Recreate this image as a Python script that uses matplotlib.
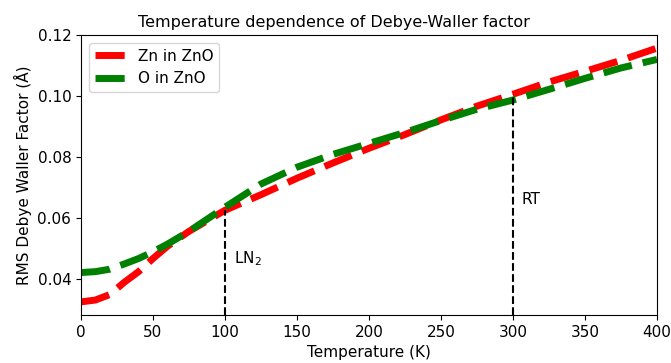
import numpy as np
import matplotlib.pyplot as plt

# RMS Debye-Waller factor (Angstrom) vs temperature (K)
temperature = [0, 10, 20, 30, 40, 50, 60, 75, 100, 125, 150, 175, 200,
               225, 250, 275, 300, 325, 350, 375, 400]
u_zn = [0.0326, 0.0332, 0.0350, 0.0390, 0.0425, 0.0468, 0.0508, 0.0557,
        0.0626, 0.0677, 0.0731, 0.0781, 0.0829, 0.0874, 0.0922, 0.0967,
        0.1006, 0.1046, 0.1081, 0.1117, 0.1157]
u_o = [0.0422, 0.0425, 0.0433, 0.0450, 0.0468, 0.0490, 0.0515, 0.0557,
       0.0636, 0.0712, 0.0767, 0.0809, 0.0845, 0.0881, 0.0920, 0.0957,
       0.0987, 0.1022, 0.1058, 0.1092, 0.1120]

# reference temperatures marked on the plot
marks = [100, 300]
mark_labels = ['LN$_2$', 'RT']

plt.rcParams['font.size'] = 11

T = np.array(temperature)
zn = np.array(u_zn)
o = np.array(u_o)

fig = plt.figure(figsize=(6.71, 3.63), dpi=100)
ax = fig.add_axes([0.1207, 0.1322, 0.8584, 0.7714])

ax.plot(T, zn, color='red', lw=5, ls=(0, (4.2, 1.6)), label='Zn in ZnO')
ax.plot(T, o, color='green', lw=5, ls=(0, (4.2, 1.6)), label='O in ZnO')

ymin = 0.0283
ax.set_xlim(0, 400)
ax.set_ylim(ymin, 0.12)

for t, lab, ty in zip(marks, mark_labels, [0.0469, 0.0662]):
    top = np.interp(t, T, zn)
    ax.vlines(t, ymin, top, colors='black', linestyles='--', lw=1.5)
    ax.text(t + 6, ty, lab, va='center')

ax.set_xticks(np.arange(0, 401, 50))
ax.set_yticks([0.04, 0.06, 0.08, 0.10, 0.12])
ax.set_yticklabels(['0.04', '0.06', '0.08', '0.10', '0.12'])
ax.set_xlabel('Temperature (K)')
ax.set_ylabel('RMS Debye Waller Factor (Å)')
ax.set_title('Temperature dependence of Debye-Waller factor', fontsize=11.5, x=0.44)
ax.legend(loc='upper left')

fig.savefig('out.png', dpi=100)
